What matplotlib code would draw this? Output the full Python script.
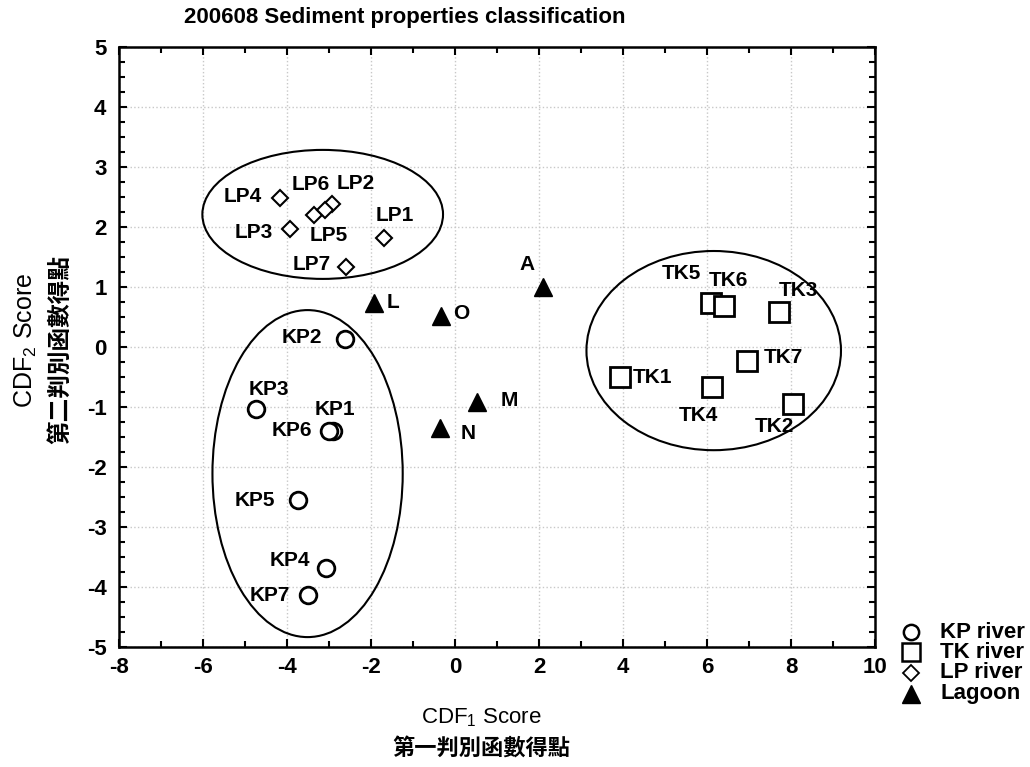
import matplotlib
matplotlib.use("Agg")
import matplotlib.pyplot as plt
from matplotlib.patches import Ellipse
from matplotlib.lines import Line2D
from matplotlib.ticker import MultipleLocator

plt.rcParams['font.family'] = ['Liberation Sans', 'DejaVu Sans']
plt.rcParams['axes.unicode_minus'] = False
plt.rcParams['mathtext.fontset'] = 'custom'
plt.rcParams['mathtext.rm'] = 'Liberation Sans'

# ---- data ----
kp_names = ["KP1", "KP2", "KP3", "KP4", "KP5", "KP6", "KP7"]
kp_x = [-2.90, -2.62, -4.74, -3.06, -3.75, -3.00, -3.49]
kp_y = [-1.40, 0.13, -1.04, -3.69, -2.55, -1.40, -4.14]

tk_names = ["TK1", "TK2", "TK3", "TK4", "TK5", "TK6", "TK7"]
tk_x = [3.93, 8.04, 7.71, 6.12, 6.10, 6.41, 6.95]
tk_y = [-0.50, -0.95, 0.58, -0.67, 0.73, 0.69, -0.24]

lp_names = ["LP1", "LP2", "LP3", "LP4", "LP5", "LP6", "LP7"]
lp_x = [-1.70, -2.94, -3.93, -4.17, -3.36, -3.09, -2.60]
lp_y = [1.81, 2.38, 1.96, 2.48, 2.20, 2.29, 1.34]

lag_names = ["A", "L", "M", "N", "O"]
lag_x = [2.09, -1.94, 0.53, -0.36, -0.33]
lag_y = [1.00, 0.74, -0.92, -1.35, 0.51]

legend_labels = ["KP river", "TK river", "LP river", "Lagoon"]

# group ellipses: centre x, centre y, width, height
ell_cx = [-3.15, -3.51, 6.16]
ell_cy = [2.21, -2.11, -0.06]
ell_w = [5.73, 4.53, 6.06]
ell_h = [2.15, 5.45, 3.32]

# label offsets (pixels) relative to each point
offsets = {
    "LP4": (-37, 2), "LP6": (-14, 25), "LP2": (24, 21), "LP3": (-36, -3),
    "LP5": (15, -20), "LP1": (11, 23), "LP7": (-34, 2),
    "KP2": (-43, 2), "KP3": (13, 20), "KP1": (2, 22), "KP6": (-37, 1),
    "KP5": (-43, 0), "KP4": (-37, 8), "KP7": (-39, 0),
    "TK5": (-30, 30), "TK6": (4, 25), "TK3": (20, 22), "TK7": (36, 4),
    "TK1": (32, 0), "TK4": (-14, -28), "TK2": (-18, -22),
    "A": (-16, 23), "L": (19, 0), "O": (20, 3), "M": (32, 2), "N": (28, -5),
}

fig = plt.figure(figsize=(10.3, 7.67), dpi=100)
ax = fig.add_axes([119 / 1030, 1 - 647 / 767, (875 - 119) / 1030, (647 - 47) / 767])

mk = dict(linestyle='none', markerfacecolor='white', markeredgecolor='black',
          markeredgewidth=2)
ax.plot(kp_x, kp_y, marker='o', markersize=12, **mk, zorder=4)
ax.plot(tk_x, tk_y, marker='s', markersize=14, **mk, zorder=4)
ax.plot(lp_x, lp_y, marker='D', markersize=8.5, markeredgewidth=1.5,
        linestyle='none', markerfacecolor='white', markeredgecolor='black', zorder=4)
ax.plot(lag_x, lag_y, marker='^', markersize=13, linestyle='none',
        color='black', zorder=4)

for names, xs, ys in [(kp_names, kp_x, kp_y), (tk_names, tk_x, tk_y),
                      (lp_names, lp_x, lp_y), (lag_names, lag_x, lag_y)]:
    for n, x, y in zip(names, xs, ys):
        ax.annotate(n, (x, y), xytext=offsets[n], textcoords='offset pixels',
                    ha='center', va='center', fontsize=15, fontweight='bold',
                    zorder=5)

for cx, cy, w, h in zip(ell_cx, ell_cy, ell_w, ell_h):
    ax.add_patch(Ellipse((cx, cy), w, h, fill=False, edgecolor='black',
                         linewidth=1.5, zorder=3))

ax.set_xlim(-8, 10)
ax.set_ylim(-5, 5)
ax.xaxis.set_major_locator(MultipleLocator(2))
ax.xaxis.set_minor_locator(MultipleLocator(1))
ax.yaxis.set_major_locator(MultipleLocator(1))
ax.yaxis.set_minor_locator(MultipleLocator(0.25))
ax.tick_params(which='both', direction='in', top=True, right=True,
               labelsize=16, width=1.5)
ax.tick_params(which='major', length=6)
ax.tick_params(which='minor', length=4)
ax.tick_params(axis='x', pad=7)
ax.tick_params(axis='y', pad=9)
for lab in ax.get_xticklabels() + ax.get_yticklabels():
    lab.set_fontweight('bold')
for s in ax.spines.values():
    s.set_linewidth(1.8)
ax.grid(True, which='major', linestyle=':', color='#c8c8c8', linewidth=1)
ax.set_axisbelow(True)

cjk = ['Noto Sans CJK TC', 'DejaVu Sans']
fig.text(405 / 1030, 1 - 18 / 767, "200608 Sediment properties classification",
         ha='center', va='center', fontsize=16, fontweight='bold')
fig.text(481 / 1030, 1 - 718 / 767, r"CDF$_\mathregular{1}$ Score",
         ha='center', va='center', fontsize=16)
fig.text(481 / 1030, 1 - 748 / 767, "第一判別函數得點",
         ha='center', va='center', fontsize=16, fontweight='bold', family=cjk)
fig.text(26 / 1030, 1 - 340 / 767, r"CDF$_\mathregular{2}$ Score",
         ha='center', va='center', fontsize=18, rotation=90)
fig.text(60 / 1030, 1 - 350 / 767, "第二判別函數得點",
         ha='center', va='center', fontsize=17, fontweight='bold', rotation=90,
         family=cjk)

# legend drawn in figure coordinates
leg_styles = [
    dict(marker='o', markersize=11, markerfacecolor='white', markeredgecolor='black', markeredgewidth=1.8),
    dict(marker='s', markersize=13, markerfacecolor='white', markeredgecolor='black', markeredgewidth=1.8),
    dict(marker='D', markersize=8, markerfacecolor='white', markeredgecolor='black', markeredgewidth=1.3),
    dict(marker='^', markersize=13, color='black'),
]
leg_rows = [632, 652, 673, 694]
for lbl, st, ry in zip(legend_labels, leg_styles, leg_rows):
    fig.add_artist(Line2D([911 / 1030], [1 - ry / 767], linestyle='none',
                          transform=fig.transFigure, **st))
    fig.text(940 / 1030, 1 - ry / 767, lbl, ha='left', va='center',
             fontsize=16, fontweight='bold')

fig.savefig("out.png", dpi=100)
